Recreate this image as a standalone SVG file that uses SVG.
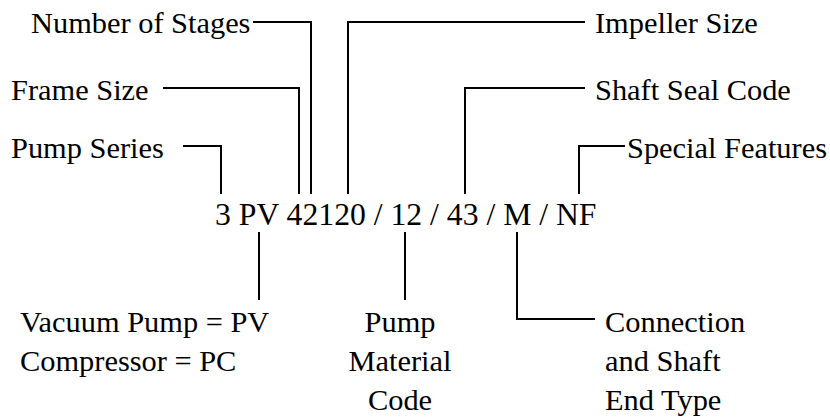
<svg xmlns="http://www.w3.org/2000/svg" width="830" height="418" viewBox="0 0 830 418">
<style>
text{font-family:"Liberation Serif","Times New Roman",serif;font-size:30.4px;fill:#000}
.code{font-size:31.7px}
.mid{text-anchor:middle}
.ln{fill:none;stroke:#000;stroke-width:2}
</style>
<rect width="830" height="418" fill="#fff"/>
<g id="code"><text class="code" x="215" y="225">3 PV 42120 / 12 / 43 / M / NF</text></g>
<g id="stages"><text x="31" y="33">Number of Stages</text></g>
<g id="frame"><text x="11" y="100">Frame Size</text></g>
<g id="series"><text x="11" y="158">Pump Series</text></g>
<g id="impeller"><text x="595" y="33">Impeller Size</text></g>
<g id="seal"><text x="595" y="100">Shaft Seal Code</text></g>
<g id="special"><text x="627" y="158">Special Features</text></g>
<g id="type"><text x="20" y="332">Vacuum Pump = PV</text><text x="20" y="371">Compressor = PC</text></g>
<g id="material"><text class="mid" x="400" y="332">Pump</text><text class="mid" x="400" y="371">Material</text><text class="mid" x="400" y="410">Code</text></g>
<g id="connection"><text x="605" y="332">Connection</text><text x="605" y="371">and Shaft</text><text x="605" y="410">End Type</text></g>
<g id="connectors">
<path class="ln" d="M253,22 H311 V194"/>
<path class="ln" d="M163,88 H299 V194"/>
<path class="ln" d="M183,146 H221 V194"/>
<path class="ln" d="M348,194 V22 H585"/>
<path class="ln" d="M465,194 V88 H585"/>
<path class="ln" d="M579,194 V146 H625"/>
<path class="ln" d="M259,232 V300"/>
<path class="ln" d="M405,232 V300"/>
<path class="ln" d="M517,232 V319 H595"/>
</g>
</svg>
